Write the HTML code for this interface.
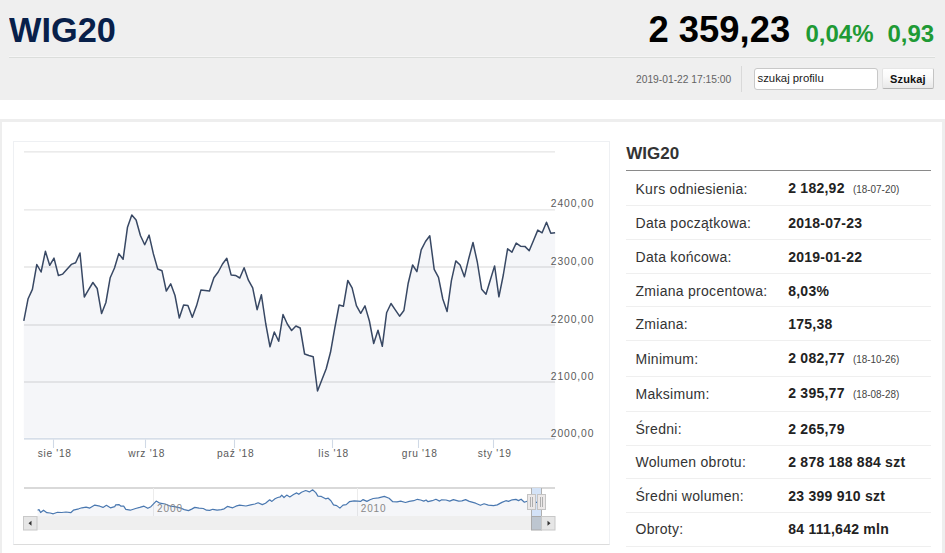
<!DOCTYPE html>
<html><head><meta charset="utf-8"><style>
*{margin:0;padding:0;box-sizing:border-box}
html,body{width:945px;height:553px;overflow:hidden;background:#fff;font-family:"Liberation Sans",sans-serif}
.t{position:absolute;line-height:1;white-space:nowrap}
#hdr{position:absolute;left:0;top:0;width:945px;height:100px;background:#efefef}
#hline{position:absolute;left:9px;top:56px;width:926px;height:2px;border-top:1px solid #f5f5f5;background:#dbdddb}
#vsep{position:absolute;left:741px;top:66px;width:1px;height:26px;background:#d9d9d9}
#inp{position:absolute;left:754px;top:68px;width:124px;height:22px;background:#fff;border:1px solid #c8c8c8;border-radius:3px}
#btn{position:absolute;left:882px;top:68px;width:52px;height:21px;border:1px solid;border-color:#e6e6e6 #c4c4c4 #b4b4b4 #e2e2e2;border-radius:2px;background:linear-gradient(#ffffff,#fafafa 40%,#e8e8e8)}
#box{position:absolute;left:0;top:119px;width:945px;height:450px;border:2px solid #eeeeee;border-top-width:3px;border-right-width:3px}
#cbox{position:absolute;left:13px;top:141px;width:597px;height:404px;border:1px solid #eef0f3;border-bottom-color:#dcdcdc}
.lab{color:#333;letter-spacing:0.28px}
.val{color:#222;font-weight:bold;letter-spacing:0.25px}
.ext{color:#444}
.sep{position:absolute;left:626px;width:305px;height:1px;background:#efefef}
#tline{position:absolute;left:626px;top:170px;width:305px;height:1px;background:#8a8a8a}
.yl{color:#5a5a5a;letter-spacing:0.9px}
.xl{color:#5a5a5a;text-align:center;letter-spacing:0.7px;text-indent:0.7px}
</style></head><body>
<div id="hdr"></div>
<div id="hline"></div>
<div class="t " style="left:9px;top:12.55px;font-size:35.5px;font-weight:bold;color:#08204a;transform:scaleX(0.967);transform-origin:0 0">WIG20</div>
<div class="t " style="left:648.5px;top:12.19px;font-size:36.4px;font-weight:bold;color:#000">2 359,23</div>
<div class="t " style="left:805.5px;top:22.48px;font-size:24px;font-weight:bold;color:#1f9a35">0,04%</div>
<div class="t " style="left:887.5px;top:22.48px;font-size:24px;font-weight:bold;color:#1f9a35">0,93</div>
<div class="t " style="left:635.6px;top:73.38px;font-size:11.6px;color:#636363;transform:scaleX(0.885);transform-origin:0 0">2019-01-22 17:15:00</div>
<div id="vsep"></div>
<div id="inp"></div>
<div class="t " style="left:757.5px;top:73.19px;font-size:11.35px;color:#1a1a1a">szukaj profilu</div>
<div id="btn"></div>
<div class="t " style="left:890px;top:73.69px;font-size:11px;color:#111;font-weight:bold;letter-spacing:0.15px">Szukaj</div>
<div id="box"></div>
<div id="cbox"></div>
<svg width="945" height="553" style="position:absolute;left:0;top:0">
<g stroke="#e5e5e5" stroke-width="1.3">
<line x1="24" y1="151.8" x2="555" y2="151.8"/>
<line x1="24" y1="209.9" x2="555" y2="209.9"/>
<line x1="24" y1="267.0" x2="555" y2="267.0"/>
<line x1="24" y1="325.0" x2="555" y2="325.0"/>
<line x1="24" y1="382.0" x2="555" y2="382.0"/>
</g>
<path d="M23.8,437.8 L23.8,320.9 L28.1,298.7 L32.4,289.4 L36.8,264.5 L41.1,272.0 L45.4,251.3 L49.7,265.3 L54.0,258.1 L58.4,275.5 L62.7,274.1 L67.0,269.3 L71.3,264.4 L75.6,262.8 L80.0,253.0 L84.3,297.0 L88.6,289.7 L92.9,282.5 L97.2,288.5 L101.6,313.6 L105.9,302.5 L110.2,277.7 L114.5,268.0 L118.8,253.6 L123.1,259.3 L127.5,227.2 L131.8,214.9 L136.1,220.0 L140.4,235.5 L144.7,244.7 L149.1,235.1 L153.4,253.9 L157.7,269.0 L162.0,270.8 L166.3,291.0 L170.7,283.8 L175.0,295.5 L179.3,318.1 L183.6,305.0 L187.9,305.6 L192.3,317.3 L196.6,305.6 L200.9,290.1 L205.2,290.5 L209.5,291.0 L213.9,277.7 L218.2,272.0 L222.5,264.0 L226.8,258.3 L231.1,274.9 L235.5,275.4 L239.8,278.0 L244.1,267.8 L248.4,280.2 L252.7,287.9 L257.1,309.7 L261.4,294.8 L265.7,323.5 L270.0,346.8 L274.3,332.0 L278.7,341.3 L283.0,314.5 L287.3,324.0 L291.6,330.5 L295.9,326.0 L300.2,328.0 L304.6,354.0 L308.9,355.5 L313.2,356.7 L317.5,391.0 L321.8,379.9 L326.2,368.8 L330.5,352.3 L334.8,328.0 L339.1,305.0 L343.4,306.3 L347.8,280.5 L352.1,287.9 L356.4,305.6 L360.7,313.3 L365.0,305.9 L369.4,321.0 L373.7,343.5 L378.0,330.2 L382.3,346.3 L386.6,312.8 L391.0,303.5 L395.3,309.8 L399.6,316.2 L403.9,310.5 L408.2,283.2 L412.6,265.0 L416.9,271.7 L421.2,249.8 L425.5,241.5 L429.8,235.8 L434.2,269.4 L438.5,277.3 L442.8,299.0 L447.1,311.5 L451.4,280.6 L455.8,260.9 L460.1,265.0 L464.4,276.8 L468.7,258.7 L473.0,242.5 L477.3,262.0 L481.7,289.3 L486.0,294.3 L490.3,280.0 L494.6,265.9 L498.9,296.8 L503.3,275.0 L507.6,248.8 L511.9,252.2 L516.2,243.1 L520.5,246.2 L524.9,246.4 L529.2,250.7 L533.5,240.5 L537.8,230.1 L542.1,232.8 L546.5,222.3 L550.8,233.3 L555.1,232.8 L555.1,437.8 Z" fill="#8ca0c0" fill-opacity="0.09"/>
<polyline points="23.8,320.9 28.1,298.7 32.4,289.4 36.8,264.5 41.1,272.0 45.4,251.3 49.7,265.3 54.0,258.1 58.4,275.5 62.7,274.1 67.0,269.3 71.3,264.4 75.6,262.8 80.0,253.0 84.3,297.0 88.6,289.7 92.9,282.5 97.2,288.5 101.6,313.6 105.9,302.5 110.2,277.7 114.5,268.0 118.8,253.6 123.1,259.3 127.5,227.2 131.8,214.9 136.1,220.0 140.4,235.5 144.7,244.7 149.1,235.1 153.4,253.9 157.7,269.0 162.0,270.8 166.3,291.0 170.7,283.8 175.0,295.5 179.3,318.1 183.6,305.0 187.9,305.6 192.3,317.3 196.6,305.6 200.9,290.1 205.2,290.5 209.5,291.0 213.9,277.7 218.2,272.0 222.5,264.0 226.8,258.3 231.1,274.9 235.5,275.4 239.8,278.0 244.1,267.8 248.4,280.2 252.7,287.9 257.1,309.7 261.4,294.8 265.7,323.5 270.0,346.8 274.3,332.0 278.7,341.3 283.0,314.5 287.3,324.0 291.6,330.5 295.9,326.0 300.2,328.0 304.6,354.0 308.9,355.5 313.2,356.7 317.5,391.0 321.8,379.9 326.2,368.8 330.5,352.3 334.8,328.0 339.1,305.0 343.4,306.3 347.8,280.5 352.1,287.9 356.4,305.6 360.7,313.3 365.0,305.9 369.4,321.0 373.7,343.5 378.0,330.2 382.3,346.3 386.6,312.8 391.0,303.5 395.3,309.8 399.6,316.2 403.9,310.5 408.2,283.2 412.6,265.0 416.9,271.7 421.2,249.8 425.5,241.5 429.8,235.8 434.2,269.4 438.5,277.3 442.8,299.0 447.1,311.5 451.4,280.6 455.8,260.9 460.1,265.0 464.4,276.8 468.7,258.7 473.0,242.5 477.3,262.0 481.7,289.3 486.0,294.3 490.3,280.0 494.6,265.9 498.9,296.8 503.3,275.0 507.6,248.8 511.9,252.2 516.2,243.1 520.5,246.2 524.9,246.4 529.2,250.7 533.5,240.5 537.8,230.1 542.1,232.8 546.5,222.3 550.8,233.3 555.1,232.8" fill="none" stroke="#384864" stroke-width="1.5" stroke-linejoin="round"/>
<line x1="24" y1="438.9" x2="555" y2="438.9" stroke="#c9d3e2" stroke-width="1.3"/>
<line x1="53.5" y1="439.5" x2="53.5" y2="448" stroke="#d0d9e6" stroke-width="1.1"/><line x1="145.5" y1="439.5" x2="145.5" y2="448" stroke="#d0d9e6" stroke-width="1.1"/><line x1="234.5" y1="439.5" x2="234.5" y2="448" stroke="#d0d9e6" stroke-width="1.1"/><line x1="332.5" y1="439.5" x2="332.5" y2="448" stroke="#d0d9e6" stroke-width="1.1"/><line x1="418.5" y1="439.5" x2="418.5" y2="448" stroke="#d0d9e6" stroke-width="1.1"/><line x1="493.5" y1="439.5" x2="493.5" y2="448" stroke="#d0d9e6" stroke-width="1.1"/>
<!-- navigator -->
<line x1="24" y1="488" x2="555" y2="488" stroke="#cccccc" stroke-width="1.5"/>
<line x1="153.5" y1="488" x2="153.5" y2="516" stroke="#ececec" stroke-width="1"/>
<line x1="357.5" y1="488" x2="357.5" y2="516" stroke="#ececec" stroke-width="1"/>
<path d="M37.6,516 L37.6,510.2 L39.0,509.6 L40.6,512.5 L43.5,510.2 L46.9,512.7 L50.1,513.0 L53.3,513.8 L57.5,512.3 L61.7,512.5 L66.0,512.0 L70.7,512.7 L73.4,510.2 L78.7,508.8 L81.9,507.8 L86.1,507.2 L89.8,508.1 L94.8,505.1 L99.8,506.2 L103.0,507.4 L106.4,505.3 L110.4,507.8 L114.7,506.7 L115.7,504.9 L118.9,504.6 L121.0,506.2 L123.7,506.2 L125.8,509.3 L130.3,510.2 L135.6,508.5 L139.8,507.4 L144.0,506.2 L147.8,508.3 L150.9,506.7 L156.2,501.1 L159.9,503.2 L165.2,504.0 L170.5,506.2 L174.7,506.7 L180.0,507.8 L184.3,509.6 L188.5,510.6 L191.7,509.1 L194.8,507.4 L199.1,508.1 L203.3,508.5 L206.5,510.2 L209.7,510.4 L212.8,509.3 L217.1,510.2 L221.3,509.6 L224.2,508.8 L227.4,506.4 L230.1,507.2 L232.7,507.8 L235.9,506.2 L239.6,505.1 L245.9,506.0 L250.7,504.9 L254.9,504.0 L258.1,502.8 L262.3,504.6 L265.5,503.2 L269.7,499.8 L271.9,501.4 L275.0,498.8 L277.7,497.5 L280.3,496.9 L281.7,495.1 L284.0,497.5 L286.7,495.1 L289.8,496.9 L293.5,494.5 L296.7,492.9 L298.8,494.3 L301.5,492.2 L305.7,490.5 L309.4,491.9 L312.6,489.8 L315.8,492.6 L317.9,496.1 L321.3,496.4 L325.6,498.8 L328.2,498.2 L330.9,500.7 L333.5,504.9 L336.7,505.6 L339.9,508.1 L343.0,505.1 L346.2,504.6 L349.4,501.7 L354.2,500.9 L357.9,501.1 L360.5,501.4 L363.1,499.6 L366.9,501.4 L370.0,499.8 L373.2,498.5 L378.5,497.9 L384.3,496.4 L389.1,498.2 L392.8,501.7 L397.0,501.9 L400.7,501.1 L405.5,502.5 L409.2,501.4 L413.7,500.7 L417.4,499.3 L420.6,500.0 L423.8,501.1 L426.1,500.0 L428.0,501.7 L432.2,500.7 L435.9,499.3 L439.6,501.1 L441.7,499.8 L446.0,500.0 L449.7,501.1 L453.4,499.6 L458.7,501.1 L461.9,500.9 L465.6,499.6 L469.3,501.4 L475.6,503.2 L480.4,505.3 L484.1,503.8 L488.3,505.1 L493.6,505.6 L497.3,504.9 L501.9,502.4 L505.9,500.7 L508.5,501.4 L512.2,499.8 L515.9,499.4 L518.5,500.6 L521.1,499.2 L524.4,502.2 L527.0,501.3 L531.5,502.0 L536.3,502.4 L541.0,502.0 L541.0,516 Z" fill="#8ca0c0" fill-opacity="0.09"/>
<rect x="531.5" y="488" width="10" height="28" fill="#cfe0f6" fill-opacity="0.9"/>
<polyline points="37.6,510.2 39.0,509.6 40.6,512.5 43.5,510.2 46.9,512.7 50.1,513.0 53.3,513.8 57.5,512.3 61.7,512.5 66.0,512.0 70.7,512.7 73.4,510.2 78.7,508.8 81.9,507.8 86.1,507.2 89.8,508.1 94.8,505.1 99.8,506.2 103.0,507.4 106.4,505.3 110.4,507.8 114.7,506.7 115.7,504.9 118.9,504.6 121.0,506.2 123.7,506.2 125.8,509.3 130.3,510.2 135.6,508.5 139.8,507.4 144.0,506.2 147.8,508.3 150.9,506.7 156.2,501.1 159.9,503.2 165.2,504.0 170.5,506.2 174.7,506.7 180.0,507.8 184.3,509.6 188.5,510.6 191.7,509.1 194.8,507.4 199.1,508.1 203.3,508.5 206.5,510.2 209.7,510.4 212.8,509.3 217.1,510.2 221.3,509.6 224.2,508.8 227.4,506.4 230.1,507.2 232.7,507.8 235.9,506.2 239.6,505.1 245.9,506.0 250.7,504.9 254.9,504.0 258.1,502.8 262.3,504.6 265.5,503.2 269.7,499.8 271.9,501.4 275.0,498.8 277.7,497.5 280.3,496.9 281.7,495.1 284.0,497.5 286.7,495.1 289.8,496.9 293.5,494.5 296.7,492.9 298.8,494.3 301.5,492.2 305.7,490.5 309.4,491.9 312.6,489.8 315.8,492.6 317.9,496.1 321.3,496.4 325.6,498.8 328.2,498.2 330.9,500.7 333.5,504.9 336.7,505.6 339.9,508.1 343.0,505.1 346.2,504.6 349.4,501.7 354.2,500.9 357.9,501.1 360.5,501.4 363.1,499.6 366.9,501.4 370.0,499.8 373.2,498.5 378.5,497.9 384.3,496.4 389.1,498.2 392.8,501.7 397.0,501.9 400.7,501.1 405.5,502.5 409.2,501.4 413.7,500.7 417.4,499.3 420.6,500.0 423.8,501.1 426.1,500.0 428.0,501.7 432.2,500.7 435.9,499.3 439.6,501.1 441.7,499.8 446.0,500.0 449.7,501.1 453.4,499.6 458.7,501.1 461.9,500.9 465.6,499.6 469.3,501.4 475.6,503.2 480.4,505.3 484.1,503.8 488.3,505.1 493.6,505.6 497.3,504.9 501.9,502.4 505.9,500.7 508.5,501.4 512.2,499.8 515.9,499.4 518.5,500.6 521.1,499.2 524.4,502.2 527.0,501.3 531.5,502.0 536.3,502.4 541.0,502.0" fill="none" stroke="#4a78b0" stroke-width="1.2" stroke-linejoin="round"/>
<line x1="531.5" y1="488" x2="531.5" y2="516" stroke="#b0b0b0" stroke-width="1"/>
<line x1="541.5" y1="488" x2="541.5" y2="516" stroke="#b0b0b0" stroke-width="1"/>
<!-- scrollbar -->
<rect x="24" y="516" width="531" height="14" fill="#efefef"/>
<rect x="531.5" y="516.5" width="10" height="13.5" fill="#bdc6d0" stroke="#aaa" stroke-width="1"/>
<rect x="23.5" y="516.5" width="13.5" height="13.5" fill="#e6e6e6" stroke="#c8c8c8" stroke-width="1"/>
<path d="M28.5,523.2 L31.5,520.7 L31.5,525.7 Z" fill="#333"/>
<rect x="541.5" y="516.5" width="13.5" height="13.5" fill="#e6e6e6" stroke="#c8c8c8" stroke-width="1"/>
<path d="M550.5,523.2 L547.5,520.7 L547.5,525.7 Z" fill="#333"/>
<!-- handles -->
<rect x="527.5" y="494.5" width="8" height="15" fill="#ebe8e8" stroke="#c4c4c4" stroke-width="1"/>
<line x1="530.5" y1="497" x2="530.5" y2="507" stroke="#a8a8a8" stroke-width="0.9"/>
<line x1="532.5" y1="497" x2="532.5" y2="507" stroke="#a8a8a8" stroke-width="0.9"/>
<rect x="537.5" y="494.5" width="8" height="15" fill="#ebe8e8" stroke="#c4c4c4" stroke-width="1"/>
<line x1="540.5" y1="497" x2="540.5" y2="507" stroke="#a8a8a8" stroke-width="0.9"/>
<line x1="542.5" y1="497" x2="542.5" y2="507" stroke="#a8a8a8" stroke-width="0.9"/>
</svg>
<div class="t yl" style="left:550.8px;top:199.08px;font-size:10.3px;">2400,00</div>
<div class="t yl" style="left:550.8px;top:256.68px;font-size:10.3px;">2300,00</div>
<div class="t yl" style="left:550.8px;top:314.68px;font-size:10.3px;">2200,00</div>
<div class="t yl" style="left:550.8px;top:371.88px;font-size:10.3px;">2100,00</div>
<div class="t yl" style="left:550.8px;top:428.88px;font-size:10.3px;">2000,00</div>
<div class="t xl" style="left:24.3px;width:60px;top:448.77px;font-size:10.2px">sie '18</div>
<div class="t xl" style="left:116.3px;width:60px;top:448.77px;font-size:10.2px">wrz '18</div>
<div class="t xl" style="left:205.3px;width:60px;top:448.77px;font-size:10.2px">paź '18</div>
<div class="t xl" style="left:303.3px;width:60px;top:448.77px;font-size:10.2px">lis '18</div>
<div class="t xl" style="left:389.3px;width:60px;top:448.77px;font-size:10.2px">gru '18</div>
<div class="t xl" style="left:464.3px;width:60px;top:448.77px;font-size:10.2px">sty '19</div>
<div class="t " style="left:157px;top:503.74px;font-size:10px;color:#888;letter-spacing:0.9px">2000</div>
<div class="t " style="left:360.7px;top:503.74px;font-size:10px;color:#888;letter-spacing:0.9px">2010</div>
<div class="t " style="left:626.2px;top:145.01px;font-size:17px;font-weight:bold;color:#333">WIG20</div>
<div id="tline"></div>
<div class="t lab" style="left:635.5px;top:181.65px;font-size:14px;">Kurs odniesienia:</div>
<div class="t val" style="left:788.2px;top:180.65px;font-size:14px;">2 182,92</div>
<div class="t ext" style="left:852.8px;top:184.29px;font-size:11px;transform:scaleX(0.9);transform-origin:0 0">(18-07-20)</div>
<div class="sep" style="top:205px"></div>
<div class="t lab" style="left:635.5px;top:216.05px;font-size:14px;">Data początkowa:</div>
<div class="t val" style="left:788.2px;top:216.05px;font-size:14px;">2018-07-23</div>
<div class="sep" style="top:239px"></div>
<div class="t lab" style="left:635.5px;top:249.85px;font-size:14px;">Data końcowa:</div>
<div class="t val" style="left:788.2px;top:249.85px;font-size:14px;">2019-01-22</div>
<div class="sep" style="top:273px"></div>
<div class="t lab" style="left:635.5px;top:283.55px;font-size:14px;">Zmiana procentowa:</div>
<div class="t val" style="left:788.2px;top:283.55px;font-size:14px;">8,03%</div>
<div class="sep" style="top:306px"></div>
<div class="t lab" style="left:635.5px;top:316.85px;font-size:14px;">Zmiana:</div>
<div class="t val" style="left:788.2px;top:316.85px;font-size:14px;">175,38</div>
<div class="sep" style="top:340px"></div>
<div class="t lab" style="left:635.5px;top:351.55px;font-size:14px;">Minimum:</div>
<div class="t val" style="left:788.2px;top:350.55px;font-size:14px;">2 082,77</div>
<div class="t ext" style="left:852.8px;top:354.19px;font-size:11px;transform:scaleX(0.9);transform-origin:0 0">(18-10-26)</div>
<div class="sep" style="top:376px"></div>
<div class="t lab" style="left:635.5px;top:386.85px;font-size:14px;">Maksimum:</div>
<div class="t val" style="left:788.2px;top:385.85px;font-size:14px;">2 395,77</div>
<div class="t ext" style="left:852.8px;top:389.49px;font-size:11px;transform:scaleX(0.9);transform-origin:0 0">(18-08-28)</div>
<div class="sep" style="top:411px"></div>
<div class="t lab" style="left:635.5px;top:421.75px;font-size:14px;">Średni:</div>
<div class="t val" style="left:788.2px;top:421.75px;font-size:14px;">2 265,79</div>
<div class="sep" style="top:445px"></div>
<div class="t lab" style="left:635.5px;top:455.15px;font-size:14px;">Wolumen obrotu:</div>
<div class="t val" style="left:788.2px;top:455.15px;font-size:14px;">2 878 188 884 szt</div>
<div class="sep" style="top:478px"></div>
<div class="t lab" style="left:635.5px;top:488.95px;font-size:14px;">Średni wolumen:</div>
<div class="t val" style="left:788.2px;top:488.95px;font-size:14px;">23 399 910 szt</div>
<div class="sep" style="top:512px"></div>
<div class="t lab" style="left:635.5px;top:522.45px;font-size:14px;">Obroty:</div>
<div class="t val" style="left:788.2px;top:522.45px;font-size:14px;">84 111,642 mln</div>
<div class="sep" style="top:546px"></div>
</body></html>
